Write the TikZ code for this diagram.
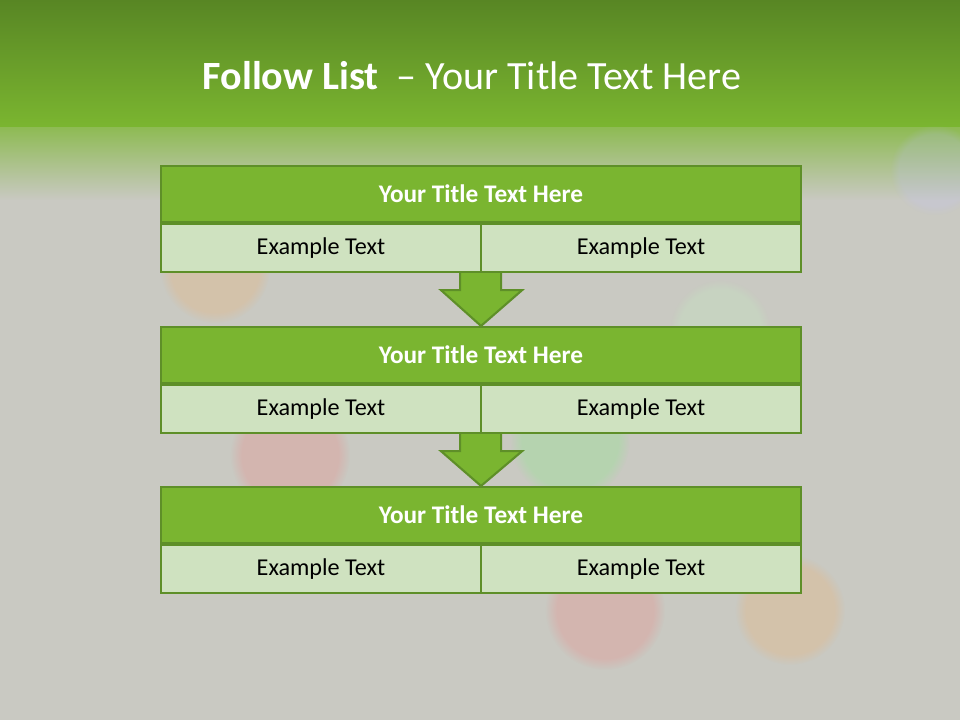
\documentclass[tikz,border=0pt]{standalone}
\usepackage{fontspec}
\setmainfont{Carlito}
\usetikzlibrary{positioning,calc,fadings}
\definecolor{bggray}{RGB}{201,201,194}
\definecolor{topgreen}{RGB}{88,134,36}
\definecolor{midgreen}{RGB}{123,182,48}
\definecolor{barfill}{RGB}{122,181,48}
\definecolor{celfill}{RGB}{207,226,192}
\definecolor{edgegreen}{RGB}{94,143,40}

\begin{document}
\begin{tikzpicture}[x=0.025cm, y=-0.025cm,
    titlebar/.style={rectangle, draw=edgegreen, fill=barfill, line width=1.5pt, minimum width=16cm, minimum height=1.4cm, inner sep=0pt, text=white, font=\fontsize{18}{21}\selectfont\bfseries},
    cell/.style={rectangle, draw=edgegreen, fill=celfill, line width=1.5pt, minimum width=8cm, minimum height=1.2cm, inner sep=0pt, font=\fontsize{17.2}{20}\selectfont},
    blob/.style={path fading=circle with fuzzy edge 20 percent, fill opacity=0.2},
    downarrow/.style={draw=edgegreen, fill=barfill, line width=1.5pt, line join=miter}]
  \useasboundingbox (0,0) rectangle (960,720);
  \clip (0,0) rectangle (960,720);
  % background
  \fill[bggray] (0,0) rectangle (960,720);
  \shade[top color=topgreen, bottom color=midgreen] (0,0) rectangle (960,128);
  \shade[top color=midgreen!75!bggray, middle color=midgreen!35!bggray, bottom color=bggray] (0,128) rectangle (960,200);
  \fill[blob, orange!70] (215,268) circle (55);
  \fill[blob, green!25!white] (720,330) circle (50);
  \fill[blob, red!60] (290,455) circle (60);
  \fill[blob, green!60] (570,440) circle (60);
  \fill[blob, red!60] (605,610) circle (60);
  \fill[blob, orange!70] (790,610) circle (55);
  \fill[blob, blue!25] (935,170) circle (45);
  \node[text=white, font=\fontsize{28.5}{32}\selectfont] (heading) at (472,76)
    {\textbf{Follow List}\ \ – Your Title Text Here};
  % the three blocks
  \foreach \i/\y in {1/194, 2/355, 3/515} {
    \node[titlebar] (t\i) at (481,\y) {Your Title Text Here};
    \node[cell, below right=0pt and 0pt of t\i.south west] (a\i) {Example Text};
    \node[cell, below left=0pt and 0pt of t\i.south east] (b\i) {Example Text};
  }
  % arrows between blocks
  \foreach \i/\j in {1/2, 2/3} {
    \draw[downarrow] ($(a\i.south east)+(-22,0)$) -- ++(0,17) -- ++(-19,0)
      -- ($(t\j.north)$) -- ($(a\i.south east)+(40,17)$) -- ++(-21,0)
      -- ($(a\i.south east)+(19,0)$);
  }
\end{tikzpicture}
\end{document}
